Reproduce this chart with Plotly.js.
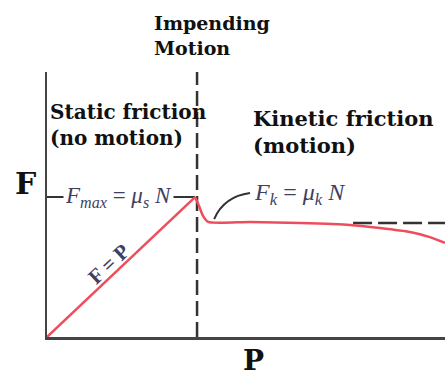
<!DOCTYPE html>
<html>
<head>
<meta charset="utf-8">
<script src="https://cdn.plot.ly/plotly-3.0.1.min.js"></script>
<style>html,body{margin:0;padding:0;background:#fff;}#chart{width:445px;height:379px;}</style>
</head>
<body>
<div id="chart"></div>
<script>
// Applied force P (x) and friction force F (y), arbitrary units
var staticP = [0, 3.72];
var staticF = [0, 5.28];
var kineticP = [3.72, 3.82, 3.92, 4.05, 5.10, 6.36, 7.61, 8.37, 9.12, 9.62, 10.0];
var kineticF = [5.28, 4.94, 4.57, 4.34, 4.34, 4.30, 4.23, 4.11, 3.96, 3.77, 3.55];
var impendingP = [3.77, 3.77];
var impendingF = [0, 10];
var kineticLevelP = [7.69, 10.0];
var kineticLevelF = [4.30, 4.30];
var fmaxLeaderP = [0, 3.72];
var fmaxLeaderF = [5.28, 5.28];

var serif = '"DejaVu Serif", "Liberation Serif", serif';
var red = 'rgb(238,78,92)';
var dark = '#333';

var traces = [
  {x: fmaxLeaderP, y: fmaxLeaderF, mode: 'lines', line: {color: dark, width: 2}, hoverinfo: 'skip'},
  {x: impendingP, y: impendingF, mode: 'lines', line: {color: dark, width: 2.5, dash: '15px,6px'}, hoverinfo: 'skip'},
  {x: kineticLevelP, y: kineticLevelF, mode: 'lines', line: {color: dark, width: 2.5, dash: '19px,6px'}, hoverinfo: 'skip'},
  {x: staticP, y: staticF, mode: 'lines', line: {color: red, width: 2.5}, hoverinfo: 'skip'},
  {x: kineticP, y: kineticF, mode: 'lines', line: {color: red, width: 2.5, shape: 'spline', smoothing: 0.6}, hoverinfo: 'skip'}
];

var labelColor = '#3f3f62';
var labelFont = '"Liberation Serif", serif';
var layout = {
  width: 445, height: 379,
  margin: {l: 47, r: 0, t: 72, b: 42},
  paper_bgcolor: '#fff', plot_bgcolor: '#fff',
  showlegend: false,
  xaxis: {range: [0, 10], showline: true, linecolor: '#444', linewidth: 2.5, showgrid: false, zeroline: false, showticklabels: false, ticks: ''},
  yaxis: {range: [0, 10], showline: true, linecolor: '#444', linewidth: 2.5, showgrid: false, zeroline: false, showticklabels: false, ticks: ''},
  shapes: [
    {type: 'path', xref: 'x', yref: 'y', path: 'M 4.20,4.45 Q 4.45,5.30 5.10,5.43', line: {color: dark, width: 2}}
  ],
  annotations: [
    {text: '<b>Impending<br>Motion</b>', x: 2.64, xref: 'x', y: 1.136, yref: 'paper', xanchor: 'left', yanchor: 'middle', align: 'left', showarrow: false, font: {family: serif, size: 19, color: '#111'}},
    {text: '<b>Static friction<br>(no motion)</b>', x: 0.02, xref: 'x', y: 0.8, yref: 'paper', xanchor: 'left', yanchor: 'middle', align: 'left', showarrow: false, font: {family: serif, size: 20, color: '#111'}},
    {text: '<b>Kinetic friction<br>(motion)</b>', x: 5.12, xref: 'x', y: 0.775, yref: 'paper', xanchor: 'left', yanchor: 'middle', align: 'left', showarrow: false, font: {family: serif, size: 21, color: '#111'}},
    {text: '<b>F</b>', x: -0.055, xref: 'paper', y: 0.581, yref: 'paper', xanchor: 'center', yanchor: 'middle', showarrow: false, font: {family: serif, size: 30, color: '#111'}},
    {text: '<b>P</b>', x: 5.18, xref: 'x', y: -0.088, yref: 'paper', xanchor: 'center', yanchor: 'middle', showarrow: false, font: {family: serif, size: 28, color: '#111'}},
    {text: '<i>F</i><sub><i>max</i></sub> = <i>μ</i><sub><i>s</i></sub> <i>N</i>', x: 1.80, xref: 'x', y: 5.28, yref: 'y', xanchor: 'center', yanchor: 'middle', bgcolor: '#fff', borderpad: 1, showarrow: false, font: {family: labelFont, size: 23, color: labelColor}},
    {text: '<i>F</i><sub><i>k</i></sub> = <i>μ</i><sub><i>k</i></sub> <i>N</i>', x: 5.15, xref: 'x', y: 5.40, yref: 'y', xanchor: 'left', yanchor: 'middle', showarrow: false, font: {family: labelFont, size: 24, color: labelColor}},
    {text: '<b>F = P</b>', x: 1.55, xref: 'x', y: 2.76, yref: 'y', xanchor: 'center', yanchor: 'middle', textangle: -43, showarrow: false, font: {family: labelFont, size: 21, color: labelColor}}
  ]
};

Plotly.newPlot('chart', traces, layout, {staticPlot: true, displayModeBar: false});
</script>
</body>
</html>
